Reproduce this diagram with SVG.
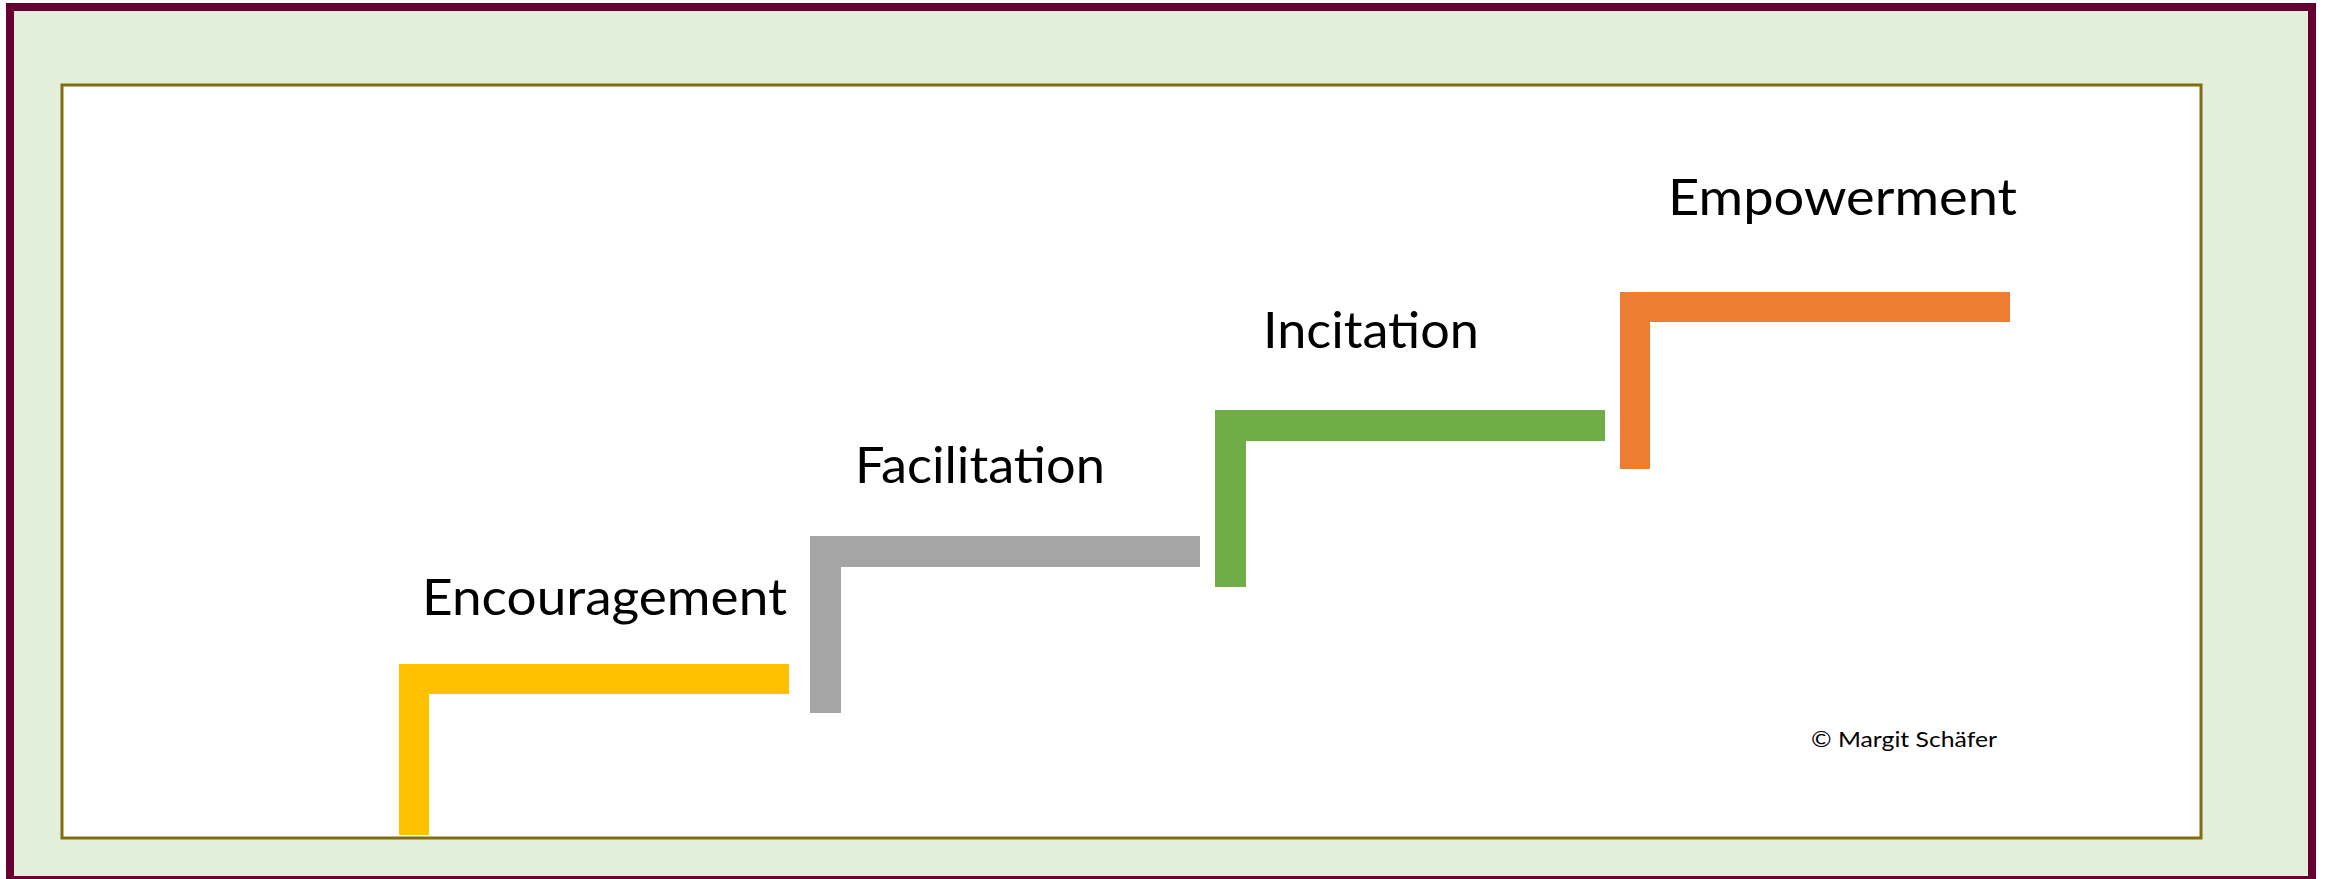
<svg xmlns="http://www.w3.org/2000/svg" width="2325" height="879" viewBox="0 0 2325 879">
  <style>
    .frame { fill: #E2EFDA; stroke: #660033; stroke-width: 8; }
    .panel { fill: #FFFFFF; stroke: #846A10; stroke-width: 3; }
    .label { font-family: Lato, "Liberation Sans", sans-serif; font-size: 50px; fill: #000000; }
    .note { font-family: Lato, "Liberation Sans", sans-serif; font-size: 22px; fill: #000000; }
  </style>

  <!-- background frame and white panel -->
  <rect class="frame" x="10" y="7" width="2302" height="873"/>
  <rect class="panel" x="62" y="85" width="2139" height="753"/>

  <!-- staircase steps (no connectors) -->
  <g id="connectors"></g>

  <g id="step-encouragement">
    <path d="M399,664 H789 V694 H429 V835 H399 Z" fill="#FFC000"/>
    <text class="label" x="422" y="615" textLength="365" lengthAdjust="spacingAndGlyphs">Encouragement</text>
  </g>

  <g id="step-facilitation">
    <path d="M810,536 H1200 V567 H841 V713 H810 Z" fill="#A5A5A5"/>
    <text class="label" x="855" y="483" textLength="250" lengthAdjust="spacingAndGlyphs">Facilitation</text>
  </g>

  <g id="step-incitation">
    <path d="M1215,410 H1605 V441 H1246 V587 H1215 Z" fill="#70AD47"/>
    <text class="label" x="1263" y="348" textLength="216" lengthAdjust="spacingAndGlyphs">Incitation</text>
  </g>

  <g id="step-empowerment">
    <path d="M1620,292 H2010 V322 H1650 V469 H1620 Z" fill="#ED7D31"/>
    <text class="label" x="1668" y="215" textLength="349" lengthAdjust="spacingAndGlyphs">Empowerment</text>
  </g>

  <g id="copyright">
    <text class="note" x="1811" y="747" textLength="186" lengthAdjust="spacingAndGlyphs">© Margit Schäfer</text>
  </g>
</svg>
